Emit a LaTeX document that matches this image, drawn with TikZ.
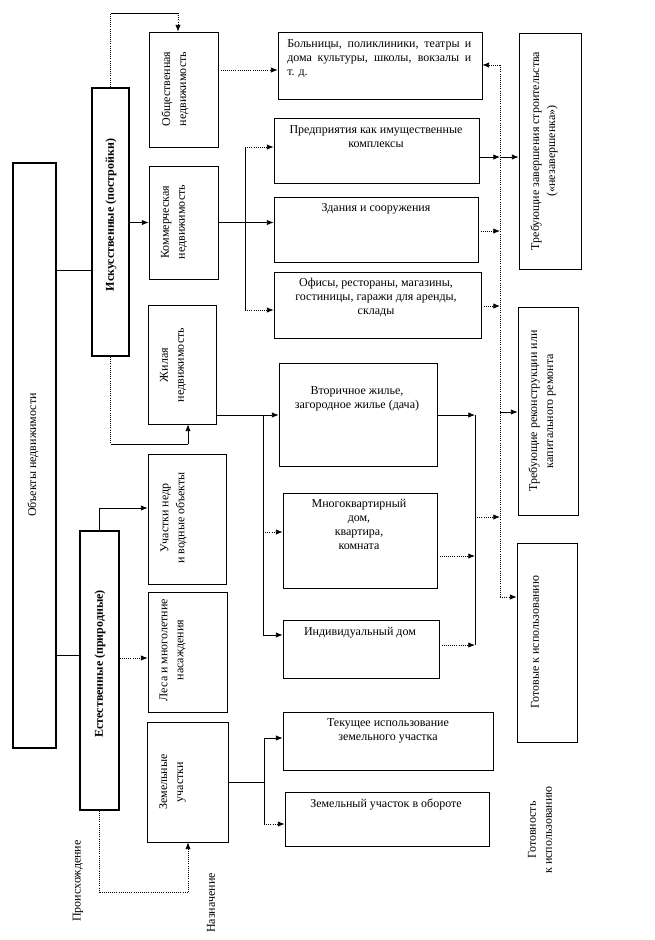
\documentclass[tikz,border=0pt]{standalone}
\usepackage{fontspec}
\setmainfont{Liberation Serif}
\usetikzlibrary{arrows.meta,fit,calc}
\begin{document}
\begin{tikzpicture}[x=0.75pt,y=-0.75pt,
  box/.style={draw,line width=0.6pt,inner sep=0pt},
  thickbox/.style={draw,line width=1.6pt,inner sep=0pt},
  txt/.style={font=\fontsize{9}{10.5}\selectfont,align=center,inner sep=0pt},
  vtxt/.style={rotate=90,font=\fontsize{9}{12}\selectfont,align=center,inner sep=0pt},
  ln/.style={line width=0.6pt},
  dl/.style={line width=0.6pt,densely dotted},
  arr/.style={-{Latex[length=5pt,width=4pt]}}]
\useasboundingbox (0,0) rectangle (655,940);

% ---- boxes ----
\node[box,line width=0.9pt,fit={(13,163) (56,748)}] (obj) {};
\node[thickbox,fit={(92,88) (129,356)}] (isk) {};
\node[thickbox,line width=1.2pt,fit={(80,531) (119,810)}] (est) {};
\node[box,fit={(149,32) (218,147)}] (obsh) {};
\node[box,fit={(149,166) (218,279)}] (kom) {};
\node[box,fit={(148,305) (216,424)}] (zhil) {};
\node[box,fit={(148,454) (226,584)}] (nedr) {};
\node[box,fit={(148,592) (227,712)}] (les) {};
\node[box,fit={(147,722) (228,842)}] (zem) {};
\node[box,fit={(278,32) (482,99)}] (bol) {};
\node[box,fit={(274,118) (479,183)}] (pred) {};
\node[box,fit={(274,197) (478,262)}] (zd) {};
\node[box,fit={(274,272) (481,338)}] (of) {};
\node[box,fit={(279,363) (437,466)}] (vtor) {};
\node[box,fit={(283,493) (437,588)}] (mnog) {};
\node[box,fit={(283,620) (439,678)}] (ind) {};
\node[box,fit={(283,712) (493,770)}] (tek) {};
\node[box,fit={(285,792) (489,846)}] (oborot) {};
\node[box,fit={(519,33) (581,269)}] (tzav) {};
\node[box,fit={(518,307) (578,515)}] (trek) {};
\node[box,fit={(517,543) (577,742)}] (got) {};

% ---- texts ----
\node[vtxt] (tobj) at (33,455) {Объекты недвижимости};
\node[vtxt,font=\fontsize{9}{12}\selectfont\bfseries] (tisk) at (111,215) {Искусственные (постройки)};
\node[vtxt,font=\fontsize{9}{12}\selectfont\bfseries] (test) at (100,664) {Естественные (природные)};
\node[vtxt] (tobsh) at (175,89) {Общественная\\недвижимость};
\node[vtxt] (tkom) at (174,222) {Коммерческая\\недвижимость};
\node[vtxt] (tzhil) at (173,365) {Жилая\\недвижимость};
\node[vtxt] (tnedr) at (173.5,518) {Участки недр\\и водные объекты};
\node[vtxt] (tles) at (172.5,650) {Леса и многолетние\\насаждения};
\node[vtxt] (tzem) at (172.5,782) {Земельные\\участки};
\node[txt,anchor=north west,align=left] (tbol) at (287,39)
  {\makebox[138pt][s]{Больницы, поликлиники, театры и}\\
   \makebox[138pt][s]{дома культуры, школы, вокзалы и}\\т. д.};
\node[txt] (tpred) at (376,137) {Предприятия как имущественные\\комплексы};
\node[txt] (tzd) at (376,209) {Здания и сооружения};
\node[txt] (tof) at (376,297) {Офисы, рестораны, магазины,\\гостиницы, гаражи для аренды,\\склады};
\node[txt] (tvtor) at (357,399) {Вторичное жилье,\\загородное жилье (дача)};
\node[txt] (tmnog) at (359,524.5) {Многоквартирный\\дом,\\квартира,\\комната};
\node[txt] (tind) at (360,633) {Индивидуальный дом};
\node[txt] (ttek) at (388,731) {Текущее использование\\земельного участка};
\node[txt] (tobor) at (386,804) {Земельный участок в обороте};
\node[vtxt] (ttzav) at (544,151) {Требующие завершения строительства\\(«незавершенка»)};
\node[vtxt] (ttrek) at (542,411) {Требующие реконструкции или\\капитального ремонта};
\node[vtxt] (tgot) at (535,642) {Готовые к использованию};
\node[vtxt] (tgotov) at (540,830) {Готовность\\к использованию};
\node[vtxt] (tproish) at (78,881) {Происхождение};
\node[vtxt] (tnazn) at (211,903) {Назначение};

% ---- coordinates ----
\coordinate (ja) at (74,270);
\coordinate (jb) at (68,655);
\coordinate (c2) at (178,13);
\coordinate (c3) at (188,444);
\coordinate (c4) at (240,70);
\coordinate (kt) at (245,147);
\coordinate (kb) at (245,310);
\coordinate (zt) at (263,415);
\coordinate (zm) at (263,532);
\coordinate (zb) at (263,635);
\coordinate (rt) at (475,415);
\coordinate (rr) at (475,517);
\coordinate (rm) at (475,556);
\coordinate (rb) at (475,645);
\coordinate (vt) at (500,65);
\coordinate (v1) at (500,157);
\coordinate (v2) at (500,231);
\coordinate (v3) at (500,306);
\coordinate (v4) at (500,412);
\coordinate (v5) at (500,517);
\coordinate (vb) at (500,597);
\coordinate (e1) at (101,508);
\coordinate (e2) at (130,658);
\coordinate (e3) at (188,892);
\coordinate (g1) at (264,738);
\coordinate (g2) at (264,824);

% ---- connectors ----
\draw[ln] (obj.east |- ja) -- (isk.west |- ja);
\draw[ln] (obj.east |- jb) -- (est.west |- jb);
% isk -> obsh
\draw[dl] (isk.north) -- (isk.north |- c2);
\draw[ln] (isk.north |- c2) -- (c2);
\draw[dl,arr] (c2) -- (obsh.north -| c2);
% isk -> kom
\draw[ln,arr] (isk.east |- kom.west) -- (kom.west);
% isk -> zhil
\draw[dl] (isk.south) -- (isk.south |- c3);
\draw[ln] (isk.south |- c3) -- (c3);
\draw[ln,arr] (c3) -- (zhil.south -| c3);
% obsh -> bol
\draw[dl,arr] (obsh.east |- c4) -- (bol.west |- c4);
% kom -> pred, zd, of
\draw[ln] (kt) -- (kb);
\draw[dl,arr] (kt) -- (pred.west |- kt);
\draw[ln,arr] (kom.east) -- (zd.west |- kom.east);
\draw[dl,arr] (kb) -- (of.west |- kb);
% zhil -> vtor, mnog, ind
\draw[ln,arr] (zhil.east |- zt) -- (vtor.west |- zt);
\draw[ln] (zt) -- (zb);
\draw[dl,arr] (zm) -- (mnog.west |- zm);
\draw[ln,arr] (zb) -- (ind.west |- zb);
% residential collector
\draw[ln,arr] (vtor.east |- rt) -- (rt);
\draw[ln] (rt) -- (rb);
\draw[dl,arr] (mnog.east |- rm) -- (rm);
\draw[dl,arr] (ind.east |- rb) -- (rb);
\draw[dl,arr] (rr) -- (v5);
% big vertical collector
\draw[dl] (vt) -- (vb);
\draw[dl,arr] (vt) -- (bol.east |- vt);
\draw[ln,arr] (pred.east |- v1) -- (v1);
\draw[ln,arr] (v1) -- (tzav.west |- v1);
\draw[dl,arr] (zd.east |- v2) -- (v2);
\draw[dl,arr] (of.east |- v3) -- (v3);
\draw[ln,arr] (v4) -- (trek.west |- v4);
\draw[dl,arr] (vb) -- (got.west |- vb);
% est -> nedr, les, zem
\draw[ln,arr] (est.north) |- (nedr.west |- e1);
\draw[dl,arr] (est.east |- e2) -- (les.west |- e2);
\draw[dl] (est.south) |- (e3);
\draw[dl,arr] (e3) -- (zem.south -| e3);
% zem -> tek, oborot
\draw[ln] (zem.east) -- (zem.east -| g1);
\draw[ln] (g1) -- (g2);
\draw[ln,arr] (g1) -- (tek.west |- g1);
\draw[dl,arr] (g2) -- (oborot.west |- g2);
\end{tikzpicture}
\end{document}
